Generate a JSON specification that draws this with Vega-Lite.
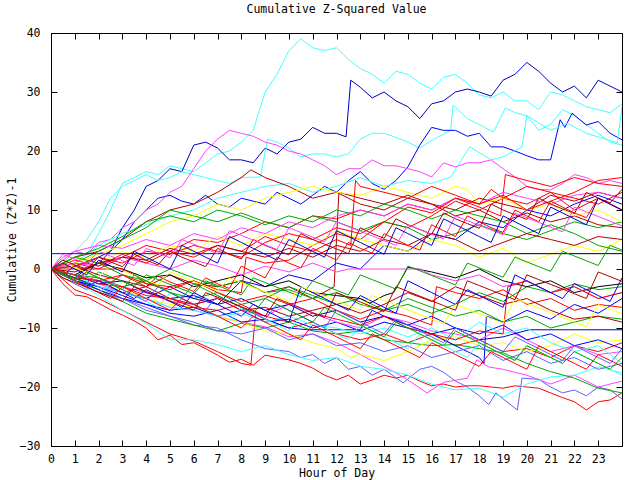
{"$schema":"https://vega.github.io/schema/vega-lite/v6.json","width":571,"height":413,"autosize":{"type":"none"},"padding":{"left":51,"top":33,"right":18,"bottom":34},"background":"#ffffff",
"title":{"text":"Cumulative Z-Squared Value","font":"DejaVu Sans Mono","fontSize":11.5,"fontWeight":"normal","color":"#000","anchor":"middle","offset":12},
"config":{"view":{"stroke":"#000","strokeWidth":1},"axis":{"domainColor":"#000","tickColor":"#000","labelColor":"#000","titleColor":"#000","labelFont":"DejaVu Sans Mono","titleFont":"DejaVu Sans Mono","labelFontSize":11.5,"titleFontSize":11.5,"titleFontWeight":"normal","grid":false,"tickSize":-6}},
"data":{"values":[
{"s":"C1","h":0,"v":0},{"s":"C1","h":0.5,"v":1.5},{"s":"C1","h":1,"v":3},{"s":"C1","h":1.5,"v":2.5},{"s":"C1","h":2,"v":6},{"s":"C1","h":2.5,"v":10},{"s":"C1","h":3,"v":14.5},{"s":"C1","h":3.5,"v":15.5},{"s":"C1","h":4,"v":16.5},{"s":"C1","h":4.5,"v":16},{"s":"C1","h":5,"v":17.5},{"s":"C1","h":5.5,"v":17},{"s":"C1","h":6,"v":16.5},{"s":"C1","h":6.5,"v":18},{"s":"C1","h":7,"v":19.5},{"s":"C1","h":7.5,"v":20},{"s":"C1","h":8,"v":21.5},{"s":"C1","h":8.5,"v":23.5},{"s":"C1","h":9,"v":30},{"s":"C1","h":9.5,"v":33},{"s":"C1","h":10,"v":37},{"s":"C1","h":10.5,"v":39},{"s":"C1","h":11,"v":37.5},{"s":"C1","h":11.5,"v":37},{"s":"C1","h":12,"v":37.5},{"s":"C1","h":12.5,"v":35.5},{"s":"C1","h":13,"v":34},{"s":"C1","h":13.5,"v":33},{"s":"C1","h":14,"v":31.5},{"s":"C1","h":14.5,"v":33.5},{"s":"C1","h":15,"v":33},{"s":"C1","h":15.5,"v":31.5},{"s":"C1","h":16,"v":30.5},{"s":"C1","h":16.5,"v":32.5},{"s":"C1","h":17,"v":33},{"s":"C1","h":17.5,"v":31.5},{"s":"C1","h":18,"v":29.5},{"s":"C1","h":18.5,"v":29},{"s":"C1","h":19,"v":30},{"s":"C1","h":19.5,"v":28.5},{"s":"C1","h":20,"v":28.5},{"s":"C1","h":20.5,"v":27},{"s":"C1","h":21,"v":30},{"s":"C1","h":21.5,"v":29.5},{"s":"C1","h":22,"v":28.5},{"s":"C1","h":22.5,"v":27.5},{"s":"C1","h":23,"v":27},{"s":"C1","h":23.5,"v":26.5},{"s":"C1","h":24,"v":28},
{"s":"B1","h":0,"v":0},{"s":"B1","h":0.5,"v":-1},{"s":"B1","h":1,"v":0.5},{"s":"B1","h":1.5,"v":1},{"s":"B1","h":2,"v":2},{"s":"B1","h":2.5,"v":3},{"s":"B1","h":3,"v":7},{"s":"B1","h":3.5,"v":10},{"s":"B1","h":4,"v":14},{"s":"B1","h":4.5,"v":15},{"s":"B1","h":5,"v":17},{"s":"B1","h":5.5,"v":16.5},{"s":"B1","h":6,"v":21},{"s":"B1","h":6.5,"v":21.5},{"s":"B1","h":7,"v":20.5},{"s":"B1","h":7.5,"v":18.5},{"s":"B1","h":8,"v":18.5},{"s":"B1","h":8.5,"v":18},{"s":"B1","h":9,"v":20.5},{"s":"B1","h":9.5,"v":19.5},{"s":"B1","h":10,"v":21.5},{"s":"B1","h":10.5,"v":22},{"s":"B1","h":11,"v":24},{"s":"B1","h":11.5,"v":23},{"s":"B1","h":12,"v":23},{"s":"B1","h":12.4,"v":22.4},{"s":"B1","h":12.6,"v":32},{"s":"B1","h":13,"v":30.8},{"s":"B1","h":13.5,"v":29},{"s":"B1","h":14,"v":30},{"s":"B1","h":14.5,"v":28.5},{"s":"B1","h":15,"v":27.5},{"s":"B1","h":15.5,"v":25.5},{"s":"B1","h":16,"v":28},{"s":"B1","h":16.5,"v":28.5},{"s":"B1","h":17,"v":30},{"s":"B1","h":17.5,"v":30.5},{"s":"B1","h":18,"v":30},{"s":"B1","h":18.5,"v":29.3},{"s":"B1","h":19,"v":32},{"s":"B1","h":19.5,"v":33},{"s":"B1","h":20,"v":35},{"s":"B1","h":20.5,"v":33.5},{"s":"B1","h":21,"v":31.5},{"s":"B1","h":21.5,"v":30},{"s":"B1","h":22,"v":31},{"s":"B1","h":22.5,"v":29},{"s":"B1","h":23,"v":32},{"s":"B1","h":23.5,"v":31},{"s":"B1","h":24,"v":30},
{"s":"C2","h":0,"v":0},{"s":"C2","h":0.5,"v":1},{"s":"C2","h":1,"v":3},{"s":"C2","h":1.5,"v":5},{"s":"C2","h":2,"v":8},{"s":"C2","h":2.5,"v":12},{"s":"C2","h":3,"v":14},{"s":"C2","h":3.5,"v":15},{"s":"C2","h":4,"v":16},{"s":"C2","h":4.5,"v":15},{"s":"C2","h":5,"v":15.5},{"s":"C2","h":5.5,"v":16.5},{"s":"C2","h":6,"v":16},{"s":"C2","h":6.5,"v":15.5},{"s":"C2","h":7,"v":15},{"s":"C2","h":7.5,"v":14.5},{"s":"C2","h":8,"v":15.5},{"s":"C2","h":8.8,"v":15.6},{"s":"C2","h":9.1,"v":22},{"s":"C2","h":9.5,"v":21.5},{"s":"C2","h":10,"v":20.5},{"s":"C2","h":10.5,"v":19},{"s":"C2","h":11,"v":19.5},{"s":"C2","h":11.5,"v":19.5},{"s":"C2","h":12,"v":19},{"s":"C2","h":12.5,"v":19.5},{"s":"C2","h":13,"v":22},{"s":"C2","h":13.5,"v":23},{"s":"C2","h":14,"v":23},{"s":"C2","h":14.5,"v":22.3},{"s":"C2","h":15,"v":21.5},{"s":"C2","h":15.5,"v":20.5},{"s":"C2","h":16,"v":21.8},{"s":"C2","h":16.8,"v":23.5},{"s":"C2","h":16.9,"v":27.8},{"s":"C2","h":17.5,"v":25.5},{"s":"C2","h":18,"v":24.5},{"s":"C2","h":18.6,"v":23.2},{"s":"C2","h":19.1,"v":27.3},{"s":"C2","h":19.5,"v":26.5},{"s":"C2","h":20,"v":26},{"s":"C2","h":20.5,"v":23.5},{"s":"C2","h":21,"v":24.5},{"s":"C2","h":21.5,"v":27},{"s":"C2","h":22,"v":26},{"s":"C2","h":22.5,"v":24.5},{"s":"C2","h":23,"v":23},{"s":"C2","h":23.5,"v":21.5},{"s":"C2","h":24,"v":21},
{"s":"B2","h":0,"v":0},{"s":"B2","h":0.5,"v":-1},{"s":"B2","h":1,"v":-1.5},{"s":"B2","h":1.5,"v":0},{"s":"B2","h":2,"v":1},{"s":"B2","h":2.5,"v":3},{"s":"B2","h":3,"v":5},{"s":"B2","h":3.5,"v":8},{"s":"B2","h":4,"v":10},{"s":"B2","h":4.5,"v":12},{"s":"B2","h":5,"v":12.5},{"s":"B2","h":5.5,"v":11.5},{"s":"B2","h":6,"v":11},{"s":"B2","h":6.5,"v":12.5},{"s":"B2","h":7,"v":11},{"s":"B2","h":7.5,"v":10.5},{"s":"B2","h":8,"v":12},{"s":"B2","h":8.5,"v":11.5},{"s":"B2","h":9,"v":11},{"s":"B2","h":9.5,"v":13},{"s":"B2","h":10,"v":12},{"s":"B2","h":10.5,"v":11},{"s":"B2","h":11,"v":12.5},{"s":"B2","h":11.5,"v":14},{"s":"B2","h":12,"v":13},{"s":"B2","h":12.5,"v":15},{"s":"B2","h":13,"v":16.5},{"s":"B2","h":13.5,"v":14.5},{"s":"B2","h":14,"v":13.5},{"s":"B2","h":14.5,"v":15},{"s":"B2","h":15,"v":17.3},{"s":"B2","h":15.5,"v":21},{"s":"B2","h":16,"v":24},{"s":"B2","h":16.5,"v":23.5},{"s":"B2","h":17,"v":23.5},{"s":"B2","h":17.5,"v":22.5},{"s":"B2","h":18,"v":23},{"s":"B2","h":18.5,"v":20.7},{"s":"B2","h":19,"v":20.7},{"s":"B2","h":19.5,"v":20},{"s":"B2","h":20,"v":19.2},{"s":"B2","h":20.5,"v":18.5},{"s":"B2","h":21,"v":18.5},{"s":"B2","h":21.4,"v":25.3},{"s":"B2","h":21.6,"v":24},{"s":"B2","h":21.9,"v":26.4},{"s":"B2","h":22.5,"v":24.4},{"s":"B2","h":23,"v":25},{"s":"B2","h":23.5,"v":23},{"s":"B2","h":24,"v":21.9},
{"s":"M1","h":0,"v":0},{"s":"M1","h":0.5,"v":2},{"s":"M1","h":1,"v":3},{"s":"M1","h":1.5,"v":2.5},{"s":"M1","h":2,"v":4.5},{"s":"M1","h":2.5,"v":5},{"s":"M1","h":3,"v":7},{"s":"M1","h":3.5,"v":8},{"s":"M1","h":4,"v":10},{"s":"M1","h":4.5,"v":11},{"s":"M1","h":5,"v":13},{"s":"M1","h":5.5,"v":14},{"s":"M1","h":6,"v":17},{"s":"M1","h":6.5,"v":20},{"s":"M1","h":7,"v":22},{"s":"M1","h":7.5,"v":23.5},{"s":"M1","h":8,"v":23},{"s":"M1","h":8.5,"v":22.5},{"s":"M1","h":9,"v":21.5},{"s":"M1","h":9.5,"v":21},{"s":"M1","h":10,"v":20},{"s":"M1","h":10.5,"v":19.5},{"s":"M1","h":11,"v":18.5},{"s":"M1","h":11.5,"v":17.5},{"s":"M1","h":12,"v":16},{"s":"M1","h":12.5,"v":17},{"s":"M1","h":13,"v":17},{"s":"M1","h":13.5,"v":18.5},{"s":"M1","h":14,"v":17.5},{"s":"M1","h":14.5,"v":17.5},{"s":"M1","h":15,"v":17},{"s":"M1","h":15.5,"v":16.5},{"s":"M1","h":16,"v":15.6},{"s":"M1","h":16.5,"v":18},{"s":"M1","h":17,"v":17.3},{"s":"M1","h":17.5,"v":18},{"s":"M1","h":18,"v":18},{"s":"M1","h":18.5,"v":18.5},{"s":"M1","h":19,"v":17},{"s":"M1","h":19.5,"v":15.6},{"s":"M1","h":20,"v":14},{"s":"M1","h":20.5,"v":13.5},{"s":"M1","h":21,"v":13.4},{"s":"M1","h":21.5,"v":14.5},{"s":"M1","h":22,"v":16},{"s":"M1","h":22.5,"v":15.5},{"s":"M1","h":23,"v":14.5},{"s":"M1","h":23.5,"v":15},{"s":"M1","h":24,"v":14.5},
{"s":"C3","h":0,"v":0},{"s":"C3","h":1,"v":1},{"s":"C3","h":2,"v":4},{"s":"C3","h":3,"v":6},{"s":"C3","h":4,"v":7.5},{"s":"C3","h":5,"v":9},{"s":"C3","h":6,"v":10},{"s":"C3","h":7,"v":12},{"s":"C3","h":8,"v":13},{"s":"C3","h":9,"v":14},{"s":"C3","h":10,"v":14.5},{"s":"C3","h":11,"v":13},{"s":"C3","h":12,"v":14},{"s":"C3","h":13,"v":15.5},{"s":"C3","h":14,"v":14},{"s":"C3","h":15,"v":15},{"s":"C3","h":16,"v":14.5},{"s":"C3","h":16.8,"v":15.6},{"s":"C3","h":17.6,"v":20.7},{"s":"C3","h":18.5,"v":18.5},{"s":"C3","h":19,"v":19},{"s":"C3","h":19.8,"v":20.7},{"s":"C3","h":20,"v":26},{"s":"C3","h":21,"v":23.5},{"s":"C3","h":21.7,"v":24.7},{"s":"C3","h":22.5,"v":23},{"s":"C3","h":23.8,"v":21.4},{"s":"C3","h":24,"v":27.5},
{"s":"R1","h":0,"v":0},{"s":"R1","h":0.5,"v":-2.5},{"s":"R1","h":1,"v":-4.4},{"s":"R1","h":1.5,"v":-4.7},{"s":"R1","h":2,"v":-5.8},{"s":"R1","h":2.5,"v":-6.9},{"s":"R1","h":3,"v":-7.8},{"s":"R1","h":3.5,"v":-8.8},{"s":"R1","h":4,"v":-10},{"s":"R1","h":4.5,"v":-12},{"s":"R1","h":5,"v":-11.2},{"s":"R1","h":5.5,"v":-12.8},{"s":"R1","h":6,"v":-12.5},{"s":"R1","h":6.5,"v":-13.5},{"s":"R1","h":7,"v":-14.6},{"s":"R1","h":7.5,"v":-15.8},{"s":"R1","h":8,"v":-15.3},{"s":"R1","h":8.5,"v":-16.3},{"s":"R1","h":9,"v":-14.6},{"s":"R1","h":9.5,"v":-15},{"s":"R1","h":10,"v":-15.4},{"s":"R1","h":10.5,"v":-16},{"s":"R1","h":11,"v":-16.8},{"s":"R1","h":11.5,"v":-18},{"s":"R1","h":12,"v":-18.8},{"s":"R1","h":12.5,"v":-18},{"s":"R1","h":13,"v":-19.5},{"s":"R1","h":13.5,"v":-18.8},{"s":"R1","h":14,"v":-18},{"s":"R1","h":14.5,"v":-18.5},{"s":"R1","h":15,"v":-18},{"s":"R1","h":15.5,"v":-19},{"s":"R1","h":16,"v":-19.8},{"s":"R1","h":16.5,"v":-19.5},{"s":"R1","h":17,"v":-20},{"s":"R1","h":17.5,"v":-19.8},{"s":"R1","h":18,"v":-19.8},{"s":"R1","h":18.5,"v":-20},{"s":"R1","h":19,"v":-20.2},{"s":"R1","h":19.5,"v":-19.8},{"s":"R1","h":20,"v":-20},{"s":"R1","h":20.5,"v":-20.2},{"s":"R1","h":21,"v":-21},{"s":"R1","h":21.5,"v":-21.8},{"s":"R1","h":22,"v":-22.5},{"s":"R1","h":22.5,"v":-23.9},{"s":"R1","h":23,"v":-22.5},{"s":"R1","h":23.5,"v":-22.2},{"s":"R1","h":24,"v":-21},
{"s":"R2","h":0,"v":0},{"s":"R2","h":1,"v":-3.5},{"s":"R2","h":2,"v":-5},{"s":"R2","h":3,"v":-7},{"s":"R2","h":4,"v":-9},{"s":"R2","h":5,"v":-11},{"s":"R2","h":6,"v":-12.2},{"s":"R2","h":7,"v":-14},{"s":"R2","h":8,"v":-16},{"s":"R2","h":8.4,"v":-16.3},{"s":"R2","h":8.6,"v":-7.5},{"s":"R2","h":9,"v":-8.5},{"s":"R2","h":10,"v":-10},{"s":"R2","h":11,"v":-9},{"s":"R2","h":12,"v":-11},{"s":"R2","h":13,"v":-12},{"s":"R2","h":14,"v":-11},{"s":"R2","h":15,"v":-12.5},{"s":"R2","h":16,"v":-11},{"s":"R2","h":17,"v":-13},{"s":"R2","h":18,"v":-12},{"s":"R2","h":19,"v":-14},{"s":"R2","h":20,"v":-13.5},{"s":"R2","h":21,"v":-15},{"s":"R2","h":22,"v":-13},{"s":"R2","h":23,"v":-14},{"s":"R2","h":24,"v":-12.5},
{"s":"P1","h":0,"v":0},{"s":"P1","h":1,"v":-2},{"s":"P1","h":2,"v":-3},{"s":"P1","h":3,"v":-5},{"s":"P1","h":4,"v":-6.5},{"s":"P1","h":5,"v":-8},{"s":"P1","h":6,"v":-9.5},{"s":"P1","h":7,"v":-10},{"s":"P1","h":8,"v":-12},{"s":"P1","h":9,"v":-13.5},{"s":"P1","h":10,"v":-14},{"s":"P1","h":10.5,"v":-15},{"s":"P1","h":11,"v":-14.5},{"s":"P1","h":11.5,"v":-16},{"s":"P1","h":12,"v":-15},{"s":"P1","h":12.5,"v":-17},{"s":"P1","h":13,"v":-16.5},{"s":"P1","h":13.5,"v":-18},{"s":"P1","h":14,"v":-17},{"s":"P1","h":14.8,"v":-19.3},{"s":"P1","h":15.5,"v":-17},{"s":"P1","h":16,"v":-16.5},{"s":"P1","h":16.5,"v":-17.5},{"s":"P1","h":17,"v":-19},{"s":"P1","h":17.5,"v":-20},{"s":"P1","h":18,"v":-21.5},{"s":"P1","h":18.4,"v":-23},{"s":"P1","h":18.7,"v":-21},{"s":"P1","h":19,"v":-22},{"s":"P1","h":19.6,"v":-23.9},{"s":"P1","h":19.8,"v":-18.5},{"s":"P1","h":20.5,"v":-18.7},{"s":"P1","h":21,"v":-20},{"s":"P1","h":21.5,"v":-21},{"s":"P1","h":22,"v":-20.5},{"s":"P1","h":22.5,"v":-21.5},{"s":"P1","h":23,"v":-20},{"s":"P1","h":23.5,"v":-20.5},{"s":"P1","h":24,"v":-22},
{"s":"M2","h":0,"v":0},{"s":"M2","h":1,"v":-1},{"s":"M2","h":2,"v":-2.5},{"s":"M2","h":3,"v":-4},{"s":"M2","h":4,"v":-5},{"s":"M2","h":5,"v":-6.5},{"s":"M2","h":6,"v":-7},{"s":"M2","h":7,"v":-8},{"s":"M2","h":8,"v":-9},{"s":"M2","h":9,"v":-9.8},{"s":"M2","h":10,"v":-11.5},{"s":"M2","h":11,"v":-11},{"s":"M2","h":12,"v":-12.5},{"s":"M2","h":13,"v":-14.5},{"s":"M2","h":14,"v":-16.6},{"s":"M2","h":14.5,"v":-17.6},{"s":"M2","h":15,"v":-18.8},{"s":"M2","h":15.8,"v":-21},{"s":"M2","h":16.5,"v":-19.2},{"s":"M2","h":17.5,"v":-18.5},{"s":"M2","h":17.9,"v":-15.4},{"s":"M2","h":18.4,"v":-16.6},{"s":"M2","h":19,"v":-17},{"s":"M2","h":20,"v":-18},{"s":"M2","h":21,"v":-19.5},{"s":"M2","h":22,"v":-18},{"s":"M2","h":23,"v":-20},{"s":"M2","h":24,"v":-19},
{"s":"C4","h":0,"v":0},{"s":"C4","h":1,"v":-2},{"s":"C4","h":2,"v":-4.5},{"s":"C4","h":3,"v":-7},{"s":"C4","h":4,"v":-9.2},{"s":"C4","h":5,"v":-12},{"s":"C4","h":6,"v":-12},{"s":"C4","h":7,"v":-12.8},{"s":"C4","h":8,"v":-14},{"s":"C4","h":9,"v":-13},{"s":"C4","h":10,"v":-14.5},{"s":"C4","h":11,"v":-15.5},{"s":"C4","h":12,"v":-15},{"s":"C4","h":13,"v":-16.5},{"s":"C4","h":14,"v":-17},{"s":"C4","h":15,"v":-18},{"s":"C4","h":16,"v":-19.5},{"s":"C4","h":17,"v":-20.5},{"s":"C4","h":18,"v":-20.2},{"s":"C4","h":19,"v":-21.7},{"s":"C4","h":20,"v":-19.5},{"s":"C4","h":21,"v":-18.3},{"s":"C4","h":22,"v":-18},{"s":"C4","h":23,"v":-16.6},{"s":"C4","h":24,"v":-17.6},
{"s":"G1","h":0,"v":0},{"s":"G1","h":1,"v":-1.5},{"s":"G1","h":2,"v":-3.5},{"s":"G1","h":3,"v":-5.5},{"s":"G1","h":4,"v":-7.5},{"s":"G1","h":5,"v":-8.5},{"s":"G1","h":6,"v":-9.5},{"s":"G1","h":7,"v":-10.5},{"s":"G1","h":8,"v":-9.2},{"s":"G1","h":9,"v":-10},{"s":"G1","h":10,"v":-9},{"s":"G1","h":11,"v":-10.5},{"s":"G1","h":12,"v":-11},{"s":"G1","h":13,"v":-10.5},{"s":"G1","h":14,"v":-12},{"s":"G1","h":15,"v":-12.5},{"s":"G1","h":16,"v":-13},{"s":"G1","h":17,"v":-12.8},{"s":"G1","h":18,"v":-13.5},{"s":"G1","h":19,"v":-14.2},{"s":"G1","h":20,"v":-16},{"s":"G1","h":21,"v":-17.4},{"s":"G1","h":22,"v":-18.5},{"s":"G1","h":23,"v":-20.2},{"s":"G1","h":24,"v":-21},
{"s":"Y1","h":0,"v":0},{"s":"Y1","h":1,"v":-1},{"s":"Y1","h":2,"v":-2},{"s":"Y1","h":3,"v":-3.5},{"s":"Y1","h":4,"v":-5},{"s":"Y1","h":5,"v":-6},{"s":"Y1","h":6,"v":-6.5},{"s":"Y1","h":7,"v":-8},{"s":"Y1","h":8,"v":-9},{"s":"Y1","h":9,"v":-10.5},{"s":"Y1","h":10,"v":-11},{"s":"Y1","h":11,"v":-12.5},{"s":"Y1","h":12,"v":-13.5},{"s":"Y1","h":12.6,"v":-15},{"s":"Y1","h":13,"v":-14.5},{"s":"Y1","h":14,"v":-15.5},{"s":"Y1","h":15,"v":-14},{"s":"Y1","h":16,"v":-12},{"s":"Y1","h":17,"v":-11.5},{"s":"Y1","h":18,"v":-13},{"s":"Y1","h":19,"v":-12.5},{"s":"Y1","h":20,"v":-14},{"s":"Y1","h":21,"v":-13},{"s":"Y1","h":22,"v":-11},{"s":"Y1","h":23,"v":-12.5},{"s":"Y1","h":24,"v":-12},
{"s":"R3","h":0,"v":0},{"s":"R3","h":1,"v":1},{"s":"R3","h":2,"v":0},{"s":"R3","h":3,"v":2},{"s":"R3","h":4,"v":4},{"s":"R3","h":5,"v":3},{"s":"R3","h":6,"v":5},{"s":"R3","h":7,"v":4.5},{"s":"R3","h":8,"v":6},{"s":"R3","h":9,"v":8},{"s":"R3","h":10,"v":7},{"s":"R3","h":11,"v":9},{"s":"R3","h":12,"v":8.5},{"s":"R3","h":13,"v":10},{"s":"R3","h":14,"v":9},{"s":"R3","h":15,"v":11},{"s":"R3","h":16,"v":10},{"s":"R3","h":17,"v":12},{"s":"R3","h":18,"v":10.5},{"s":"R3","h":18.9,"v":9},{"s":"R3","h":19.1,"v":16},{"s":"R3","h":20,"v":15},{"s":"R3","h":21,"v":14},{"s":"R3","h":22,"v":15.5},{"s":"R3","h":23,"v":14.5},{"s":"R3","h":24,"v":14},
{"s":"R4","h":0,"v":0},{"s":"R4","h":1,"v":-1},{"s":"R4","h":2,"v":-2},{"s":"R4","h":3,"v":-1},{"s":"R4","h":4,"v":-2.5},{"s":"R4","h":5,"v":-3},{"s":"R4","h":6,"v":-2},{"s":"R4","h":7,"v":-3.5},{"s":"R4","h":8,"v":-4},{"s":"R4","h":8.2,"v":2},{"s":"R4","h":9,"v":1},{"s":"R4","h":10,"v":1.5},{"s":"R4","h":11,"v":4},{"s":"R4","h":12,"v":6},{"s":"R4","h":13,"v":5},{"s":"R4","h":14,"v":8},{"s":"R4","h":15,"v":7},{"s":"R4","h":16,"v":9},{"s":"R4","h":17,"v":11.5},{"s":"R4","h":18,"v":10},{"s":"R4","h":19,"v":12},{"s":"R4","h":20,"v":11},{"s":"R4","h":21,"v":13},{"s":"R4","h":22,"v":12},{"s":"R4","h":23,"v":11},{"s":"R4","h":24,"v":13},
{"s":"D1","h":0,"v":0},{"s":"D1","h":1,"v":0.5},{"s":"D1","h":2,"v":-1},{"s":"D1","h":3,"v":-2},{"s":"D1","h":4,"v":-3},{"s":"D1","h":5,"v":-1},{"s":"D1","h":6,"v":-2.5},{"s":"D1","h":7,"v":-3},{"s":"D1","h":8,"v":-2},{"s":"D1","h":9,"v":-4},{"s":"D1","h":10,"v":-3},{"s":"D1","h":11,"v":-5},{"s":"D1","h":11.9,"v":-3},{"s":"D1","h":12.1,"v":13},{"s":"D1","h":13,"v":12},{"s":"D1","h":14,"v":11},{"s":"D1","h":15,"v":12.5},{"s":"D1","h":16,"v":11},{"s":"D1","h":17,"v":10},{"s":"D1","h":18,"v":12},{"s":"D1","h":19,"v":11},{"s":"D1","h":20,"v":10},{"s":"D1","h":21,"v":12.5},{"s":"D1","h":22,"v":11.5},{"s":"D1","h":23,"v":13},{"s":"D1","h":24,"v":12},
{"s":"D2","h":0,"v":0},{"s":"D2","h":1,"v":2},{"s":"D2","h":2,"v":3},{"s":"D2","h":3,"v":5},{"s":"D2","h":4,"v":8},{"s":"D2","h":5,"v":10},{"s":"D2","h":6,"v":11},{"s":"D2","h":7,"v":13},{"s":"D2","h":8,"v":15.5},{"s":"D2","h":8.4,"v":16.8},{"s":"D2","h":9,"v":15.5},{"s":"D2","h":10,"v":14},{"s":"D2","h":11,"v":12},{"s":"D2","h":12,"v":13},{"s":"D2","h":13,"v":11},{"s":"D2","h":14,"v":10},{"s":"D2","h":15,"v":12},{"s":"D2","h":16,"v":11},{"s":"D2","h":17,"v":9},{"s":"D2","h":18,"v":10},{"s":"D2","h":19,"v":8},{"s":"D2","h":20,"v":9.5},{"s":"D2","h":21,"v":8},{"s":"D2","h":22,"v":9},{"s":"D2","h":23,"v":7.5},{"s":"D2","h":24,"v":7},
{"s":"G2","h":0,"v":0},{"s":"G2","h":1,"v":1},{"s":"G2","h":2,"v":3},{"s":"G2","h":3,"v":5},{"s":"G2","h":4,"v":7},{"s":"G2","h":5,"v":10},{"s":"G2","h":6,"v":9},{"s":"G2","h":7,"v":8},{"s":"G2","h":8,"v":9.5},{"s":"G2","h":9,"v":8},{"s":"G2","h":10,"v":7},{"s":"G2","h":11,"v":9},{"s":"G2","h":12,"v":8},{"s":"G2","h":13,"v":6.5},{"s":"G2","h":14,"v":8},{"s":"G2","h":15,"v":7},{"s":"G2","h":16,"v":5},{"s":"G2","h":17,"v":6},{"s":"G2","h":18,"v":7.5},{"s":"G2","h":19,"v":6},{"s":"G2","h":20,"v":5},{"s":"G2","h":21,"v":6.5},{"s":"G2","h":22,"v":8},{"s":"G2","h":23,"v":7},{"s":"G2","h":24,"v":8},
{"s":"G3","h":0,"v":0},{"s":"G3","h":1,"v":-1},{"s":"G3","h":2,"v":-1.5},{"s":"G3","h":3,"v":-3},{"s":"G3","h":4,"v":-2},{"s":"G3","h":5,"v":-4},{"s":"G3","h":6,"v":-5},{"s":"G3","h":7,"v":-4},{"s":"G3","h":8,"v":-6},{"s":"G3","h":9,"v":-5},{"s":"G3","h":10,"v":-3},{"s":"G3","h":11,"v":-4.5},{"s":"G3","h":12,"v":-6},{"s":"G3","h":13,"v":-5},{"s":"G3","h":14,"v":-7},{"s":"G3","h":15,"v":-6},{"s":"G3","h":16,"v":-7.5},{"s":"G3","h":17,"v":-6},{"s":"G3","h":18,"v":-4},{"s":"G3","h":19,"v":-5.5},{"s":"G3","h":20,"v":-3},{"s":"G3","h":21,"v":-4},{"s":"G3","h":22,"v":-2.5},{"s":"G3","h":23,"v":-3.5},{"s":"G3","h":24,"v":-3},
{"s":"B3","h":0,"v":0},{"s":"B3","h":1,"v":-2},{"s":"B3","h":2,"v":-3},{"s":"B3","h":3,"v":-4},{"s":"B3","h":4,"v":-5},{"s":"B3","h":5,"v":-3},{"s":"B3","h":6,"v":-5},{"s":"B3","h":7,"v":-6},{"s":"B3","h":8,"v":-2},{"s":"B3","h":9,"v":-3},{"s":"B3","h":10,"v":-1},{"s":"B3","h":11,"v":-2},{"s":"B3","h":12,"v":1},{"s":"B3","h":13,"v":0},{"s":"B3","h":14,"v":4},{"s":"B3","h":15,"v":3},{"s":"B3","h":16,"v":6},{"s":"B3","h":17,"v":5},{"s":"B3","h":18,"v":8},{"s":"B3","h":19,"v":7},{"s":"B3","h":20,"v":10},{"s":"B3","h":21,"v":9},{"s":"B3","h":22,"v":11},{"s":"B3","h":23,"v":12.5},{"s":"B3","h":24,"v":11},
{"s":"B4","h":0,"v":0},{"s":"B4","h":1,"v":-1.5},{"s":"B4","h":2,"v":-3},{"s":"B4","h":3,"v":-4.5},{"s":"B4","h":4,"v":-6},{"s":"B4","h":5,"v":-7},{"s":"B4","h":6,"v":-6.5},{"s":"B4","h":7,"v":-8},{"s":"B4","h":8,"v":-7},{"s":"B4","h":9,"v":-9},{"s":"B4","h":10,"v":-8.5},{"s":"B4","h":11,"v":-10},{"s":"B4","h":12,"v":-9},{"s":"B4","h":13,"v":-10.5},{"s":"B4","h":14,"v":-9},{"s":"B4","h":15,"v":-10},{"s":"B4","h":16,"v":-11},{"s":"B4","h":17,"v":-13},{"s":"B4","h":18,"v":-15},{"s":"B4","h":18.2,"v":-16},{"s":"B4","h":18.3,"v":-8},{"s":"B4","h":19,"v":-9},{"s":"B4","h":20,"v":-7},{"s":"B4","h":21,"v":-8.5},{"s":"B4","h":22,"v":-6},{"s":"B4","h":23,"v":-7.5},{"s":"B4","h":24,"v":-5},
{"s":"Y2","h":0,"v":0},{"s":"Y2","h":1,"v":2},{"s":"Y2","h":2,"v":1},{"s":"Y2","h":3,"v":3},{"s":"Y2","h":4,"v":2},{"s":"Y2","h":5,"v":4},{"s":"Y2","h":6,"v":3},{"s":"Y2","h":7,"v":5.5},{"s":"Y2","h":8,"v":4},{"s":"Y2","h":9,"v":6},{"s":"Y2","h":10,"v":5},{"s":"Y2","h":11,"v":4},{"s":"Y2","h":12,"v":6.5},{"s":"Y2","h":13,"v":5},{"s":"Y2","h":14,"v":4},{"s":"Y2","h":15,"v":3},{"s":"Y2","h":16,"v":5},{"s":"Y2","h":17,"v":4},{"s":"Y2","h":18,"v":2},{"s":"Y2","h":19,"v":3.5},{"s":"Y2","h":20,"v":1},{"s":"Y2","h":21,"v":2.5},{"s":"Y2","h":22,"v":4},{"s":"Y2","h":23,"v":3},{"s":"Y2","h":24,"v":5},
{"s":"Y3","h":0,"v":0},{"s":"Y3","h":1,"v":1},{"s":"Y3","h":2,"v":2.5},{"s":"Y3","h":3,"v":4},{"s":"Y3","h":4,"v":6},{"s":"Y3","h":5,"v":8},{"s":"Y3","h":6,"v":9},{"s":"Y3","h":7,"v":11},{"s":"Y3","h":8,"v":10},{"s":"Y3","h":9,"v":12},{"s":"Y3","h":10,"v":13},{"s":"Y3","h":11,"v":14},{"s":"Y3","h":12,"v":13},{"s":"Y3","h":13,"v":12.5},{"s":"Y3","h":14,"v":14},{"s":"Y3","h":15,"v":13},{"s":"Y3","h":16,"v":12},{"s":"Y3","h":17,"v":14},{"s":"Y3","h":17.5,"v":13.5},{"s":"Y3","h":18,"v":11},{"s":"Y3","h":19,"v":12},{"s":"Y3","h":20,"v":10},{"s":"Y3","h":21,"v":11},{"s":"Y3","h":22,"v":9},{"s":"Y3","h":23,"v":10},{"s":"Y3","h":24,"v":8},
{"s":"M3","h":0,"v":0},{"s":"M3","h":1,"v":3},{"s":"M3","h":2,"v":4},{"s":"M3","h":3,"v":3.5},{"s":"M3","h":4,"v":5},{"s":"M3","h":5,"v":4},{"s":"M3","h":6,"v":6},{"s":"M3","h":7,"v":5},{"s":"M3","h":8,"v":7},{"s":"M3","h":9,"v":6},{"s":"M3","h":10,"v":8},{"s":"M3","h":11,"v":7},{"s":"M3","h":12,"v":9},{"s":"M3","h":13,"v":10},{"s":"M3","h":14,"v":9},{"s":"M3","h":15,"v":11},{"s":"M3","h":16,"v":10},{"s":"M3","h":17,"v":12},{"s":"M3","h":18,"v":11},{"s":"M3","h":19,"v":13},{"s":"M3","h":20,"v":12},{"s":"M3","h":21,"v":11},{"s":"M3","h":22,"v":12.5},{"s":"M3","h":23,"v":13},{"s":"M3","h":24,"v":12},
{"s":"M4","h":0,"v":0},{"s":"M4","h":1,"v":-1},{"s":"M4","h":2,"v":-2},{"s":"M4","h":3,"v":-3},{"s":"M4","h":4,"v":-4},{"s":"M4","h":5,"v":-5.5},{"s":"M4","h":6,"v":-6},{"s":"M4","h":7,"v":-5},{"s":"M4","h":8,"v":-7},{"s":"M4","h":9,"v":-8},{"s":"M4","h":10,"v":-6},{"s":"M4","h":11,"v":-7.5},{"s":"M4","h":12,"v":-9},{"s":"M4","h":13,"v":-10},{"s":"M4","h":14,"v":-8},{"s":"M4","h":15,"v":-9},{"s":"M4","h":16,"v":-10.5},{"s":"M4","h":17,"v":-11},{"s":"M4","h":18,"v":-12},{"s":"M4","h":19,"v":-10},{"s":"M4","h":20,"v":-12},{"s":"M4","h":21,"v":-14},{"s":"M4","h":22,"v":-13},{"s":"M4","h":23,"v":-14.5},{"s":"M4","h":24,"v":-14},
{"s":"K1","h":0,"v":0},{"s":"K1","h":1,"v":-1},{"s":"K1","h":2,"v":1},{"s":"K1","h":3,"v":0},{"s":"K1","h":4,"v":-1.5},{"s":"K1","h":5,"v":-1},{"s":"K1","h":6,"v":-3},{"s":"K1","h":7,"v":-2},{"s":"K1","h":8,"v":-1},{"s":"K1","h":9,"v":-3},{"s":"K1","h":10,"v":-2},{"s":"K1","h":11,"v":-4},{"s":"K1","h":12,"v":-4.5},{"s":"K1","h":13,"v":-5},{"s":"K1","h":13.4,"v":-5.8},{"s":"K1","h":14,"v":-4.5},{"s":"K1","h":14.4,"v":-4},{"s":"K1","h":15,"v":0.3},{"s":"K1","h":16,"v":-0.5},{"s":"K1","h":17,"v":-1.5},{"s":"K1","h":18,"v":0},{"s":"K1","h":19,"v":-2},{"s":"K1","h":20,"v":-3},{"s":"K1","h":21,"v":-2},{"s":"K1","h":22,"v":-4},{"s":"K1","h":23,"v":-3},{"s":"K1","h":24,"v":-2.5},
{"s":"KF","h":15.5,"v":2.6},{"s":"KF","h":24,"v":2.6},
{"s":"ZB","h":0,"v":2.6},{"s":"ZB","h":15.5,"v":2.6},
{"s":"B5","h":0,"v":0},{"s":"B5","h":1,"v":-2},{"s":"B5","h":2,"v":-3.5},{"s":"B5","h":3,"v":-5},{"s":"B5","h":4,"v":-6},{"s":"B5","h":5,"v":-7.5},{"s":"B5","h":6,"v":-8},{"s":"B5","h":7,"v":-7},{"s":"B5","h":8,"v":-9},{"s":"B5","h":9,"v":-8.5},{"s":"B5","h":10,"v":-10},{"s":"B5","h":10.8,"v":-10.3},{"s":"B5","h":13,"v":-10.3},{"s":"B5","h":13.5,"v":-7},{"s":"B5","h":14,"v":-8},{"s":"B5","h":15,"v":-9.5},{"s":"B5","h":16,"v":-8},{"s":"B5","h":17,"v":-10},{"s":"B5","h":18,"v":-11},{"s":"B5","h":19,"v":-9.5},{"s":"B5","h":20,"v":-12},{"s":"B5","h":21,"v":-11},{"s":"B5","h":22,"v":-13},{"s":"B5","h":23,"v":-12},{"s":"B5","h":24,"v":-13.5},
{"s":"B6","h":0,"v":0},{"s":"B6","h":1,"v":-1},{"s":"B6","h":2,"v":-2.5},{"s":"B6","h":3,"v":-2},{"s":"B6","h":4,"v":-4},{"s":"B6","h":5,"v":-5},{"s":"B6","h":6,"v":-4.5},{"s":"B6","h":7,"v":-6},{"s":"B6","h":8,"v":-5},{"s":"B6","h":9,"v":-7},{"s":"B6","h":10,"v":-6},{"s":"B6","h":11,"v":-8},{"s":"B6","h":12,"v":-7},{"s":"B6","h":13,"v":-9},{"s":"B6","h":14,"v":-8},{"s":"B6","h":15,"v":-9.5},{"s":"B6","h":16,"v":-11},{"s":"B6","h":17,"v":-10},{"s":"B6","h":18,"v":-12},{"s":"B6","h":19,"v":-11.5},{"s":"B6","h":20.1,"v":-10.3},{"s":"B6","h":24,"v":-10.3},
{"s":"M5","h":0,"v":0},{"s":"M5","h":1,"v":1},{"s":"M5","h":2,"v":0.5},{"s":"M5","h":3,"v":2},{"s":"M5","h":4,"v":1},{"s":"M5","h":5,"v":0},{"s":"M5","h":6,"v":1.5},{"s":"M5","h":7,"v":0.5},{"s":"M5","h":8,"v":-1},{"s":"M5","h":9,"v":0.5},{"s":"M5","h":10,"v":-0.5},{"s":"M5","h":11,"v":1},{"s":"M5","h":12,"v":-0.5},{"s":"M5","h":12.5,"v":0},{"s":"M5","h":15.5,"v":0},{"s":"M5","h":16,"v":-1},{"s":"M5","h":17,"v":-2},{"s":"M5","h":18,"v":-1},{"s":"M5","h":19,"v":-3},{"s":"M5","h":20,"v":-2},{"s":"M5","h":21,"v":-4},{"s":"M5","h":22,"v":-3},{"s":"M5","h":23,"v":-5},{"s":"M5","h":24,"v":-4},
{"s":"R5","h":0,"v":0},{"s":"R5","h":3,"v":0},{"s":"R5","h":3.5,"v":-1},{"s":"R5","h":4,"v":-2.5},{"s":"R5","h":5,"v":-3.5},{"s":"R5","h":6,"v":-2},{"s":"R5","h":7,"v":-4},{"s":"R5","h":8,"v":-5.5},{"s":"R5","h":9,"v":-4.5},{"s":"R5","h":10,"v":-6},{"s":"R5","h":11,"v":-5},{"s":"R5","h":12,"v":-7},{"s":"R5","h":13,"v":-8.5},{"s":"R5","h":14,"v":-7},{"s":"R5","h":15,"v":-8},{"s":"R5","h":16,"v":-9.5},{"s":"R5","h":16.2,"v":-3},{"s":"R5","h":17,"v":-4},{"s":"R5","h":18,"v":-5},{"s":"R5","h":19,"v":-3.5},{"s":"R5","h":20,"v":-6},{"s":"R5","h":21,"v":-5},{"s":"R5","h":22,"v":-7},{"s":"R5","h":23,"v":-6},{"s":"R5","h":24,"v":-6.5},
{"s":"C5","h":0,"v":0},{"s":"C5","h":1,"v":-1},{"s":"C5","h":2,"v":-3},{"s":"C5","h":3,"v":-4},{"s":"C5","h":4,"v":-5},{"s":"C5","h":5,"v":-6.5},{"s":"C5","h":6,"v":-7},{"s":"C5","h":7,"v":-8},{"s":"C5","h":8,"v":-7.5},{"s":"C5","h":9,"v":-9},{"s":"C5","h":10,"v":-8},{"s":"C5","h":11,"v":-9.5},{"s":"C5","h":12,"v":-10},{"s":"C5","h":13,"v":-11},{"s":"C5","h":14,"v":-10},{"s":"C5","h":15,"v":-11.5},{"s":"C5","h":16,"v":-10},{"s":"C5","h":17,"v":-12},{"s":"C5","h":18,"v":-9},{"s":"C5","h":19,"v":-11},{"s":"C5","h":20,"v":-10},{"s":"C5","h":21,"v":-12.5},{"s":"C5","h":22,"v":-14},{"s":"C5","h":23,"v":-13},{"s":"C5","h":24,"v":-16},
{"s":"G4","h":0,"v":0},{"s":"G4","h":1,"v":2},{"s":"G4","h":2,"v":1},{"s":"G4","h":3,"v":-1},{"s":"G4","h":4,"v":-2},{"s":"G4","h":5,"v":0},{"s":"G4","h":6,"v":-1.5},{"s":"G4","h":7,"v":-3},{"s":"G4","h":8,"v":-2},{"s":"G4","h":9,"v":-4},{"s":"G4","h":10,"v":-3.5},{"s":"G4","h":11,"v":-5},{"s":"G4","h":12,"v":-4},{"s":"G4","h":13,"v":-6},{"s":"G4","h":14,"v":-7},{"s":"G4","h":15,"v":-5},{"s":"G4","h":16,"v":-6.5},{"s":"G4","h":17,"v":-8},{"s":"G4","h":18,"v":-7},{"s":"G4","h":19,"v":-9},{"s":"G4","h":20,"v":-8},{"s":"G4","h":21,"v":-10},{"s":"G4","h":22,"v":-9},{"s":"G4","h":23,"v":-8},{"s":"G4","h":24,"v":-8.5},
{"s":"P2","h":0,"v":0},{"s":"P2","h":1,"v":-2},{"s":"P2","h":2,"v":-4},{"s":"P2","h":3,"v":-5},{"s":"P2","h":4,"v":-7},{"s":"P2","h":5,"v":-8},{"s":"P2","h":6,"v":-9},{"s":"P2","h":7,"v":-10.5},{"s":"P2","h":8,"v":-11},{"s":"P2","h":9,"v":-10},{"s":"P2","h":10,"v":-12},{"s":"P2","h":11,"v":-11},{"s":"P2","h":12,"v":-13},{"s":"P2","h":13,"v":-12.5},{"s":"P2","h":14,"v":-14},{"s":"P2","h":15,"v":-13},{"s":"P2","h":16,"v":-15},{"s":"P2","h":17,"v":-14},{"s":"P2","h":18,"v":-13},{"s":"P2","h":19,"v":-15.5},{"s":"P2","h":20,"v":-14},{"s":"P2","h":21,"v":-16},{"s":"P2","h":22,"v":-15},{"s":"P2","h":23,"v":-17},{"s":"P2","h":24,"v":-16},
{"s":"D3","h":0,"v":0},{"s":"D3","h":1,"v":-1.5},{"s":"D3","h":2,"v":-2},{"s":"D3","h":3,"v":-4},{"s":"D3","h":4,"v":-3},{"s":"D3","h":5,"v":-5},{"s":"D3","h":6,"v":-6},{"s":"D3","h":7,"v":-5},{"s":"D3","h":8,"v":-7},{"s":"D3","h":9,"v":-6.5},{"s":"D3","h":10,"v":-8},{"s":"D3","h":11,"v":-7},{"s":"D3","h":12,"v":-6},{"s":"D3","h":13,"v":-7.5},{"s":"D3","h":14,"v":-6},{"s":"D3","h":15,"v":-4},{"s":"D3","h":16,"v":-5.5},{"s":"D3","h":17,"v":-3},{"s":"D3","h":18,"v":-4.5},{"s":"D3","h":19,"v":-6},{"s":"D3","h":20,"v":-5},{"s":"D3","h":21,"v":-7},{"s":"D3","h":22,"v":-8.5},{"s":"D3","h":23,"v":-8},{"s":"D3","h":24,"v":-9},
{"s":"R6","h":0,"v":0},{"s":"R6","h":1,"v":1.5},{"s":"R6","h":2,"v":0.5},{"s":"R6","h":3,"v":2.5},{"s":"R6","h":4,"v":1},{"s":"R6","h":5,"v":3},{"s":"R6","h":6,"v":2},{"s":"R6","h":7,"v":4},{"s":"R6","h":8,"v":3},{"s":"R6","h":9,"v":5.5},{"s":"R6","h":10,"v":4},{"s":"R6","h":11,"v":3},{"s":"R6","h":12,"v":5},{"s":"R6","h":12.6,"v":4},{"s":"R6","h":12.8,"v":15},{"s":"R6","h":13,"v":14},{"s":"R6","h":14,"v":13},{"s":"R6","h":15,"v":12},{"s":"R6","h":16,"v":14},{"s":"R6","h":17,"v":12.5},{"s":"R6","h":18,"v":11},{"s":"R6","h":18.5,"v":13.5},{"s":"R6","h":19,"v":12},{"s":"R6","h":20,"v":14},{"s":"R6","h":21,"v":13},{"s":"R6","h":22,"v":10},{"s":"R6","h":23,"v":12},{"s":"R6","h":24,"v":10},
{"s":"R7","h":0,"v":0},{"s":"R7","h":1,"v":-1},{"s":"R7","h":2,"v":-2.5},{"s":"R7","h":3,"v":-3},{"s":"R7","h":4,"v":-4.5},{"s":"R7","h":5,"v":-5},{"s":"R7","h":6,"v":-6.5},{"s":"R7","h":7,"v":-7},{"s":"R7","h":8,"v":-6},{"s":"R7","h":9,"v":-8},{"s":"R7","h":10,"v":-9},{"s":"R7","h":11,"v":-7.5},{"s":"R7","h":12,"v":-8.5},{"s":"R7","h":13,"v":-9.5},{"s":"R7","h":14,"v":-8},{"s":"R7","h":15,"v":-10},{"s":"R7","h":16,"v":-11},{"s":"R7","h":17,"v":-12},{"s":"R7","h":18,"v":-10.5},{"s":"R7","h":19,"v":-11},{"s":"R7","h":19.2,"v":-3},{"s":"R7","h":20,"v":-2},{"s":"R7","h":21,"v":-4},{"s":"R7","h":22,"v":-3},{"s":"R7","h":23,"v":-5},{"s":"R7","h":24,"v":-4},
{"s":"R8","h":0,"v":0},{"s":"R8","h":1,"v":0.5},{"s":"R8","h":2,"v":2},{"s":"R8","h":3,"v":1},{"s":"R8","h":4,"v":3},{"s":"R8","h":5,"v":2.5},{"s":"R8","h":6,"v":4},{"s":"R8","h":7,"v":3},{"s":"R8","h":8,"v":2},{"s":"R8","h":9,"v":4.5},{"s":"R8","h":10,"v":6},{"s":"R8","h":11,"v":5},{"s":"R8","h":12,"v":7},{"s":"R8","h":13,"v":6},{"s":"R8","h":14,"v":8},{"s":"R8","h":15,"v":10.5},{"s":"R8","h":16,"v":9.5},{"s":"R8","h":17,"v":12},{"s":"R8","h":18,"v":11},{"s":"R8","h":19,"v":12.5},{"s":"R8","h":20,"v":10},{"s":"R8","h":21,"v":11.5},{"s":"R8","h":22,"v":13},{"s":"R8","h":23,"v":15},{"s":"R8","h":24,"v":15.5},
{"s":"G5","h":0,"v":0},{"s":"G5","h":1,"v":2},{"s":"G5","h":2,"v":3.5},{"s":"G5","h":3,"v":5.5},{"s":"G5","h":4,"v":8},{"s":"G5","h":5,"v":9},{"s":"G5","h":6,"v":8},{"s":"G5","h":7,"v":10},{"s":"G5","h":8,"v":9},{"s":"G5","h":9,"v":7.5},{"s":"G5","h":10,"v":9},{"s":"G5","h":11,"v":8},{"s":"G5","h":12,"v":10},{"s":"G5","h":13,"v":9},{"s":"G5","h":14,"v":11},{"s":"G5","h":15,"v":10},{"s":"G5","h":16,"v":8.5},{"s":"G5","h":17,"v":10},{"s":"G5","h":18,"v":9},{"s":"G5","h":19,"v":8},{"s":"G5","h":20,"v":6},{"s":"G5","h":21,"v":7.5},{"s":"G5","h":22,"v":6},{"s":"G5","h":23,"v":4},{"s":"G5","h":24,"v":3},
{"s":"D4","h":0,"v":0},{"s":"D4","h":1,"v":-0.5},{"s":"D4","h":2,"v":1},{"s":"D4","h":3,"v":2},{"s":"D4","h":4,"v":1.5},{"s":"D4","h":5,"v":3.5},{"s":"D4","h":6,"v":2.5},{"s":"D4","h":7,"v":4},{"s":"D4","h":8,"v":3},{"s":"D4","h":9,"v":2},{"s":"D4","h":10,"v":3.5},{"s":"D4","h":11,"v":2},{"s":"D4","h":12,"v":4},{"s":"D4","h":13,"v":3},{"s":"D4","h":14,"v":5},{"s":"D4","h":15,"v":4},{"s":"D4","h":16,"v":6},{"s":"D4","h":17,"v":5},{"s":"D4","h":18,"v":3},{"s":"D4","h":19,"v":4.5},{"s":"D4","h":20,"v":6},{"s":"D4","h":21,"v":5},{"s":"D4","h":22,"v":4},{"s":"D4","h":23,"v":5.5},{"s":"D4","h":24,"v":5},
{"s":"N1","h":0,"v":0},{"s":"N1","h":0.5,"v":-1},{"s":"N1","h":1,"v":-1.8},{"s":"N1","h":1.5,"v":-0.5},{"s":"N1","h":2,"v":-1.5},{"s":"N1","h":2.5,"v":-2.3},{"s":"N1","h":3,"v":-1},{"s":"N1","h":3.5,"v":-2},{"s":"N1","h":4,"v":-3},{"s":"N1","h":4.5,"v":-1.2},{"s":"N1","h":5,"v":-2.2},{"s":"N1","h":5.5,"v":-3},{"s":"N1","h":6,"v":-3.8},{"s":"N1","h":6.5,"v":-1.5},{"s":"N1","h":7,"v":-2.5},{"s":"N1","h":7.5,"v":-3.3},{"s":"N1","h":8,"v":0.5},{"s":"N1","h":8.5,"v":-0.5},{"s":"N1","h":9,"v":-1.5},{"s":"N1","h":9.5,"v":2},{"s":"N1","h":10,"v":1},{"s":"N1","h":10.5,"v":0.2},{"s":"N1","h":11,"v":3.5},{"s":"N1","h":11.5,"v":2.5},{"s":"N1","h":12,"v":1.5},{"s":"N1","h":12.5,"v":4.5},{"s":"N1","h":13,"v":3.5},{"s":"N1","h":13.5,"v":2.7},{"s":"N1","h":14,"v":6},{"s":"N1","h":14.5,"v":5},{"s":"N1","h":15,"v":4},{"s":"N1","h":15.5,"v":3.2},{"s":"N1","h":16,"v":7.5},{"s":"N1","h":16.5,"v":6.5},{"s":"N1","h":17,"v":5.5},{"s":"N1","h":17.5,"v":9},{"s":"N1","h":18,"v":8},{"s":"N1","h":18.5,"v":7},{"s":"N1","h":19,"v":6.2},{"s":"N1","h":19.5,"v":10},{"s":"N1","h":20,"v":9},{"s":"N1","h":20.5,"v":8},{"s":"N1","h":21,"v":11.5},{"s":"N1","h":21.5,"v":10.5},{"s":"N1","h":22,"v":9.5},{"s":"N1","h":22.5,"v":8.7},{"s":"N1","h":23,"v":12},{"s":"N1","h":23.5,"v":11},{"s":"N1","h":24,"v":10},
{"s":"N2","h":0,"v":0},{"s":"N2","h":0.5,"v":1.5},{"s":"N2","h":1,"v":0.7},{"s":"N2","h":1.5,"v":0},{"s":"N2","h":2,"v":2},{"s":"N2","h":2.5,"v":1.2},{"s":"N2","h":3,"v":0.4},{"s":"N2","h":3.5,"v":2.5},{"s":"N2","h":4,"v":1.5},{"s":"N2","h":4.5,"v":0.7},{"s":"N2","h":5,"v":3},{"s":"N2","h":5.5,"v":2},{"s":"N2","h":6,"v":1.2},{"s":"N2","h":6.5,"v":0.4},{"s":"N2","h":7,"v":3.5},{"s":"N2","h":7.5,"v":2.5},{"s":"N2","h":8,"v":1.7},{"s":"N2","h":8.5,"v":5},{"s":"N2","h":9,"v":4},{"s":"N2","h":9.5,"v":3.2},{"s":"N2","h":10,"v":2.4},{"s":"N2","h":10.5,"v":6},{"s":"N2","h":11,"v":5},{"s":"N2","h":11.5,"v":4.2},{"s":"N2","h":12,"v":3.4},{"s":"N2","h":12.5,"v":2.6},{"s":"N2","h":13,"v":7},{"s":"N2","h":13.5,"v":6},{"s":"N2","h":14,"v":5.2},{"s":"N2","h":14.5,"v":8.5},{"s":"N2","h":15,"v":7.5},{"s":"N2","h":15.5,"v":6.7},{"s":"N2","h":16,"v":5.9},{"s":"N2","h":16.5,"v":9.5},{"s":"N2","h":17,"v":8.5},{"s":"N2","h":17.5,"v":7.7},{"s":"N2","h":18,"v":6.9},{"s":"N2","h":18.5,"v":11},{"s":"N2","h":19,"v":10},{"s":"N2","h":19.5,"v":9.2},{"s":"N2","h":20,"v":8.4},{"s":"N2","h":20.5,"v":12},{"s":"N2","h":21,"v":11},{"s":"N2","h":21.5,"v":10.2},{"s":"N2","h":22,"v":9.4},{"s":"N2","h":22.5,"v":13},{"s":"N2","h":23,"v":12},{"s":"N2","h":23.5,"v":11.2},{"s":"N2","h":24,"v":13.5},
{"s":"N3","h":0,"v":0},{"s":"N3","h":0.5,"v":-0.8},{"s":"N3","h":1,"v":-1.6},{"s":"N3","h":1.5,"v":-2.4},{"s":"N3","h":2,"v":-0.5},{"s":"N3","h":2.5,"v":-1.3},{"s":"N3","h":3,"v":-2.1},{"s":"N3","h":3.5,"v":-2.9},{"s":"N3","h":4,"v":-1},{"s":"N3","h":4.5,"v":-1.8},{"s":"N3","h":5,"v":-2.6},{"s":"N3","h":5.5,"v":-3.4},{"s":"N3","h":6,"v":-4.2},{"s":"N3","h":6.5,"v":-2},{"s":"N3","h":7,"v":-2.8},{"s":"N3","h":7.5,"v":-3.6},{"s":"N3","h":8,"v":-4.4},{"s":"N3","h":8.5,"v":-1.5},{"s":"N3","h":9,"v":-2.3},{"s":"N3","h":9.5,"v":-3.1},{"s":"N3","h":10,"v":-3.9},{"s":"N3","h":10.5,"v":-4.7},{"s":"N3","h":11,"v":-2},{"s":"N3","h":11.5,"v":-2.8},{"s":"N3","h":12,"v":-3.6},{"s":"N3","h":12.5,"v":-4.4},{"s":"N3","h":13,"v":-1},{"s":"N3","h":13.5,"v":-1.8},{"s":"N3","h":14,"v":-2.6},{"s":"N3","h":14.5,"v":-3.4},{"s":"N3","h":15,"v":0.5},{"s":"N3","h":15.5,"v":-0.3},{"s":"N3","h":16,"v":-1.1},{"s":"N3","h":16.5,"v":-1.9},{"s":"N3","h":17,"v":-2.7},{"s":"N3","h":17.5,"v":1},{"s":"N3","h":18,"v":0.2},{"s":"N3","h":18.5,"v":-0.6},{"s":"N3","h":19,"v":-1.4},{"s":"N3","h":19.5,"v":2},{"s":"N3","h":20,"v":1.2},{"s":"N3","h":20.5,"v":0.4},{"s":"N3","h":21,"v":-0.4},{"s":"N3","h":21.5,"v":3},{"s":"N3","h":22,"v":2.2},{"s":"N3","h":22.5,"v":1.4},{"s":"N3","h":23,"v":0.6},{"s":"N3","h":23.5,"v":4},{"s":"N3","h":24,"v":3.2},
{"s":"N4","h":0,"v":0},{"s":"N4","h":0.5,"v":-1},{"s":"N4","h":1,"v":-2},{"s":"N4","h":1.5,"v":-3},{"s":"N4","h":2,"v":-2},{"s":"N4","h":2.5,"v":-3},{"s":"N4","h":3,"v":-4},{"s":"N4","h":3.5,"v":-5},{"s":"N4","h":4,"v":-3.5},{"s":"N4","h":4.5,"v":-4.5},{"s":"N4","h":5,"v":-5.5},{"s":"N4","h":5.5,"v":-6.5},{"s":"N4","h":6,"v":-4},{"s":"N4","h":6.5,"v":-5},{"s":"N4","h":7,"v":-6},{"s":"N4","h":7.5,"v":-7},{"s":"N4","h":8,"v":-8},{"s":"N4","h":8.5,"v":-6},{"s":"N4","h":9,"v":-7},{"s":"N4","h":9.5,"v":-8},{"s":"N4","h":10,"v":-9},{"s":"N4","h":10.5,"v":-3},{"s":"N4","h":11,"v":-4},{"s":"N4","h":11.5,"v":-5},{"s":"N4","h":12,"v":-6},{"s":"N4","h":12.5,"v":-7},{"s":"N4","h":13,"v":-4.5},{"s":"N4","h":13.5,"v":-5.5},{"s":"N4","h":14,"v":-6.5},{"s":"N4","h":14.5,"v":-7.5},{"s":"N4","h":15,"v":-2},{"s":"N4","h":15.5,"v":-3},{"s":"N4","h":16,"v":-4},{"s":"N4","h":16.5,"v":-5},{"s":"N4","h":17,"v":-6},{"s":"N4","h":17.5,"v":-3.5},{"s":"N4","h":18,"v":-4.5},{"s":"N4","h":18.5,"v":-5.5},{"s":"N4","h":19,"v":-6.5},{"s":"N4","h":19.5,"v":-1},{"s":"N4","h":20,"v":-2},{"s":"N4","h":20.5,"v":-3},{"s":"N4","h":21,"v":-4},{"s":"N4","h":21.5,"v":-5},{"s":"N4","h":22,"v":-2.5},{"s":"N4","h":22.5,"v":-3.5},{"s":"N4","h":23,"v":-4.5},{"s":"N4","h":23.5,"v":-5.5},{"s":"N4","h":24,"v":-1.5},
{"s":"N5","h":0,"v":0},{"s":"N5","h":0.5,"v":1},{"s":"N5","h":1,"v":0.2},{"s":"N5","h":1.5,"v":-0.6},{"s":"N5","h":2,"v":-1.4},{"s":"N5","h":2.5,"v":0.5},{"s":"N5","h":3,"v":-0.3},{"s":"N5","h":3.5,"v":-1.1},{"s":"N5","h":4,"v":-1.9},{"s":"N5","h":4.5,"v":-2.7},{"s":"N5","h":5,"v":-0.5},{"s":"N5","h":5.5,"v":-1.3},{"s":"N5","h":6,"v":-2.1},{"s":"N5","h":6.5,"v":-2.9},{"s":"N5","h":7,"v":-3.7},{"s":"N5","h":7.5,"v":-1.5},{"s":"N5","h":8,"v":-2.3},{"s":"N5","h":8.5,"v":-3.1},{"s":"N5","h":9,"v":-3.9},{"s":"N5","h":9.5,"v":-4.7},{"s":"N5","h":10,"v":-5.5},{"s":"N5","h":10.5,"v":-3},{"s":"N5","h":11,"v":-3.8},{"s":"N5","h":11.5,"v":-4.6},{"s":"N5","h":12,"v":-5.4},{"s":"N5","h":12.5,"v":-6.2},{"s":"N5","h":13,"v":-7},{"s":"N5","h":13.5,"v":-4.5},{"s":"N5","h":14,"v":-5.3},{"s":"N5","h":14.5,"v":-6.1},{"s":"N5","h":15,"v":-6.9},{"s":"N5","h":15.5,"v":-7.7},{"s":"N5","h":16,"v":-8.5},{"s":"N5","h":16.5,"v":-9.3},{"s":"N5","h":17,"v":-6},{"s":"N5","h":17.5,"v":-6.8},{"s":"N5","h":18,"v":-7.6},{"s":"N5","h":18.5,"v":-8.4},{"s":"N5","h":19,"v":-9.2},{"s":"N5","h":19.5,"v":-5},{"s":"N5","h":20,"v":-5.8},{"s":"N5","h":20.5,"v":-6.6},{"s":"N5","h":21,"v":-7.4},{"s":"N5","h":21.5,"v":-8.2},{"s":"N5","h":22,"v":-9},{"s":"N5","h":22.5,"v":-9.8},{"s":"N5","h":23,"v":-6},{"s":"N5","h":23.5,"v":-6.8},{"s":"N5","h":24,"v":-7.6},
{"s":"N6","h":0,"v":0},{"s":"N6","h":0.5,"v":2.5},{"s":"N6","h":1,"v":1.7},{"s":"N6","h":1.5,"v":0.9},{"s":"N6","h":2,"v":3},{"s":"N6","h":2.5,"v":2.2},{"s":"N6","h":3,"v":1.4},{"s":"N6","h":3.5,"v":0.6},{"s":"N6","h":4,"v":3.5},{"s":"N6","h":4.5,"v":2.7},{"s":"N6","h":5,"v":1.9},{"s":"N6","h":5.5,"v":5},{"s":"N6","h":6,"v":4.2},{"s":"N6","h":6.5,"v":3.4},{"s":"N6","h":7,"v":2.6},{"s":"N6","h":7.5,"v":6.5},{"s":"N6","h":8,"v":5.7},{"s":"N6","h":8.5,"v":4.9},{"s":"N6","h":9,"v":4.1},{"s":"N6","h":9.5,"v":3.3},{"s":"N6","h":10,"v":7},{"s":"N6","h":10.5,"v":6.2},{"s":"N6","h":11,"v":5.4},{"s":"N6","h":11.5,"v":4.6},{"s":"N6","h":12,"v":8},{"s":"N6","h":12.5,"v":7.2},{"s":"N6","h":13,"v":6.4},{"s":"N6","h":13.5,"v":5.6},{"s":"N6","h":14,"v":4.8},{"s":"N6","h":14.5,"v":4},{"s":"N6","h":15,"v":7.5},{"s":"N6","h":15.5,"v":6.7},{"s":"N6","h":16,"v":5.9},{"s":"N6","h":16.5,"v":5.1},{"s":"N6","h":17,"v":9},{"s":"N6","h":17.5,"v":8.2},{"s":"N6","h":18,"v":7.4},{"s":"N6","h":18.5,"v":6.6},{"s":"N6","h":19,"v":5.8},{"s":"N6","h":19.5,"v":9.5},{"s":"N6","h":20,"v":8.7},{"s":"N6","h":20.5,"v":7.9},{"s":"N6","h":21,"v":7.1},{"s":"N6","h":21.5,"v":6.3},{"s":"N6","h":22,"v":10.5},{"s":"N6","h":22.5,"v":9.7},{"s":"N6","h":23,"v":8.9},{"s":"N6","h":23.5,"v":8.1},{"s":"N6","h":24,"v":7.3},
{"s":"N7","h":0,"v":0},{"s":"N7","h":0.5,"v":-1},{"s":"N7","h":1,"v":-2},{"s":"N7","h":1.5,"v":-3},{"s":"N7","h":2,"v":-4},{"s":"N7","h":2.5,"v":-2.5},{"s":"N7","h":3,"v":-3.5},{"s":"N7","h":3.5,"v":-4.5},{"s":"N7","h":4,"v":-5.5},{"s":"N7","h":4.5,"v":-6.5},{"s":"N7","h":5,"v":-4},{"s":"N7","h":5.5,"v":-5},{"s":"N7","h":6,"v":-6},{"s":"N7","h":6.5,"v":-7},{"s":"N7","h":7,"v":-8},{"s":"N7","h":7.5,"v":-9},{"s":"N7","h":8,"v":-6.5},{"s":"N7","h":8.5,"v":-7.5},{"s":"N7","h":9,"v":-8.5},{"s":"N7","h":9.5,"v":-9.5},{"s":"N7","h":10,"v":-10.5},{"s":"N7","h":10.5,"v":-8},{"s":"N7","h":11,"v":-9},{"s":"N7","h":11.5,"v":-10},{"s":"N7","h":12,"v":-11},{"s":"N7","h":12.5,"v":-12},{"s":"N7","h":13,"v":-9.5},{"s":"N7","h":13.5,"v":-10.5},{"s":"N7","h":14,"v":-11.5},{"s":"N7","h":14.5,"v":-12.5},{"s":"N7","h":15,"v":-13.5},{"s":"N7","h":15.5,"v":-11},{"s":"N7","h":16,"v":-12},{"s":"N7","h":16.5,"v":-13},{"s":"N7","h":17,"v":-14},{"s":"N7","h":17.5,"v":-15},{"s":"N7","h":18,"v":-12.5},{"s":"N7","h":18.5,"v":-13.5},{"s":"N7","h":19,"v":-14.5},{"s":"N7","h":19.5,"v":-15.5},{"s":"N7","h":20,"v":-13},{"s":"N7","h":20.5,"v":-14},{"s":"N7","h":21,"v":-15},{"s":"N7","h":21.5,"v":-16},{"s":"N7","h":22,"v":-14},{"s":"N7","h":22.5,"v":-15},{"s":"N7","h":23,"v":-16},{"s":"N7","h":23.5,"v":-17},{"s":"N7","h":24,"v":-18},
{"s":"N8","h":0,"v":0},{"s":"N8","h":0.5,"v":-1.5},{"s":"N8","h":1,"v":-2.5},{"s":"N8","h":1.5,"v":-3.5},{"s":"N8","h":2,"v":-1.5},{"s":"N8","h":2.5,"v":-2.5},{"s":"N8","h":3,"v":-3.5},{"s":"N8","h":3.5,"v":-4.5},{"s":"N8","h":4,"v":-5.5},{"s":"N8","h":4.5,"v":-3},{"s":"N8","h":5,"v":-4},{"s":"N8","h":5.5,"v":-5},{"s":"N8","h":6,"v":-6},{"s":"N8","h":6.5,"v":-7},{"s":"N8","h":7,"v":-4.5},{"s":"N8","h":7.5,"v":-5.5},{"s":"N8","h":8,"v":-6.5},{"s":"N8","h":8.5,"v":-7.5},{"s":"N8","h":9,"v":-8.5},{"s":"N8","h":9.5,"v":-6},{"s":"N8","h":10,"v":-7},{"s":"N8","h":10.5,"v":-8},{"s":"N8","h":11,"v":-9},{"s":"N8","h":11.5,"v":-10},{"s":"N8","h":12,"v":-7},{"s":"N8","h":12.5,"v":-8},{"s":"N8","h":13,"v":-9},{"s":"N8","h":13.5,"v":-10},{"s":"N8","h":14,"v":-11},{"s":"N8","h":14.5,"v":-8.5},{"s":"N8","h":15,"v":-9.5},{"s":"N8","h":15.5,"v":-10.5},{"s":"N8","h":16,"v":-11.5},{"s":"N8","h":16.5,"v":-12.5},{"s":"N8","h":17,"v":-10},{"s":"N8","h":17.5,"v":-11},{"s":"N8","h":18,"v":-12},{"s":"N8","h":18.5,"v":-13},{"s":"N8","h":19,"v":-14},{"s":"N8","h":19.5,"v":-11.5},{"s":"N8","h":20,"v":-12.5},{"s":"N8","h":20.5,"v":-13.5},{"s":"N8","h":21,"v":-14.5},{"s":"N8","h":21.5,"v":-15.5},{"s":"N8","h":22,"v":-13},{"s":"N8","h":22.5,"v":-14},{"s":"N8","h":23,"v":-15},{"s":"N8","h":23.5,"v":-16},{"s":"N8","h":24,"v":-13.5},
{"s":"N9","h":0,"v":0},{"s":"N9","h":0.5,"v":-1},{"s":"N9","h":1,"v":-2},{"s":"N9","h":1.5,"v":-3},{"s":"N9","h":2,"v":-4},{"s":"N9","h":2.5,"v":-5},{"s":"N9","h":3,"v":-3},{"s":"N9","h":3.5,"v":-4},{"s":"N9","h":4,"v":-5},{"s":"N9","h":4.5,"v":-6},{"s":"N9","h":5,"v":-7},{"s":"N9","h":5.5,"v":-5},{"s":"N9","h":6,"v":-6},{"s":"N9","h":6.5,"v":-7},{"s":"N9","h":7,"v":-8},{"s":"N9","h":7.5,"v":-9},{"s":"N9","h":8,"v":-10},{"s":"N9","h":8.5,"v":-8},{"s":"N9","h":9,"v":-9},{"s":"N9","h":9.5,"v":-10},{"s":"N9","h":10,"v":-11},{"s":"N9","h":10.5,"v":-12},{"s":"N9","h":11,"v":-9.5},{"s":"N9","h":11.5,"v":-10.5},{"s":"N9","h":12,"v":-11.5},{"s":"N9","h":12.5,"v":-12.5},{"s":"N9","h":13,"v":-13.5},{"s":"N9","h":13.5,"v":-11},{"s":"N9","h":14,"v":-12},{"s":"N9","h":14.5,"v":-13},{"s":"N9","h":15,"v":-14},{"s":"N9","h":15.5,"v":-15},{"s":"N9","h":16,"v":-12.5},{"s":"N9","h":16.5,"v":-13.5},{"s":"N9","h":17,"v":-14.5},{"s":"N9","h":17.5,"v":-15.5},{"s":"N9","h":18,"v":-16.5},{"s":"N9","h":18.5,"v":-14},{"s":"N9","h":19,"v":-15},{"s":"N9","h":19.5,"v":-16},{"s":"N9","h":20,"v":-17},{"s":"N9","h":20.5,"v":-13},{"s":"N9","h":21,"v":-14},{"s":"N9","h":21.5,"v":-15},{"s":"N9","h":22,"v":-16},{"s":"N9","h":22.5,"v":-17},{"s":"N9","h":23,"v":-14.5},{"s":"N9","h":23.5,"v":-15.5},{"s":"N9","h":24,"v":-16.5},
{"s":"NA","h":0,"v":0},{"s":"NA","h":0.5,"v":1},{"s":"NA","h":1,"v":0},{"s":"NA","h":1.5,"v":-1},{"s":"NA","h":2,"v":1.5},{"s":"NA","h":2.5,"v":0.5},{"s":"NA","h":3,"v":-0.5},{"s":"NA","h":3.5,"v":3},{"s":"NA","h":4,"v":2},{"s":"NA","h":4.5,"v":1},{"s":"NA","h":5,"v":0},{"s":"NA","h":5.5,"v":4},{"s":"NA","h":6,"v":3},{"s":"NA","h":6.5,"v":2},{"s":"NA","h":7,"v":1},{"s":"NA","h":7.5,"v":5.5},{"s":"NA","h":8,"v":4.5},{"s":"NA","h":8.5,"v":3.5},{"s":"NA","h":9,"v":2.5},{"s":"NA","h":9.5,"v":1.5},{"s":"NA","h":10,"v":5},{"s":"NA","h":10.5,"v":4},{"s":"NA","h":11,"v":3},{"s":"NA","h":11.5,"v":2},{"s":"NA","h":12,"v":6.5},{"s":"NA","h":12.5,"v":5.5},{"s":"NA","h":13,"v":4.5},{"s":"NA","h":13.5,"v":3.5},{"s":"NA","h":14,"v":2.5},{"s":"NA","h":14.5,"v":7},{"s":"NA","h":15,"v":6},{"s":"NA","h":15.5,"v":5},{"s":"NA","h":16,"v":4},{"s":"NA","h":16.5,"v":8.5},{"s":"NA","h":17,"v":7.5},{"s":"NA","h":17.5,"v":6.5},{"s":"NA","h":18,"v":5.5},{"s":"NA","h":18.5,"v":4.5},{"s":"NA","h":19,"v":9},{"s":"NA","h":19.5,"v":8},{"s":"NA","h":20,"v":7},{"s":"NA","h":20.5,"v":6},{"s":"NA","h":21,"v":10.5},{"s":"NA","h":21.5,"v":9.5},{"s":"NA","h":22,"v":8.5},{"s":"NA","h":22.5,"v":7.5},{"s":"NA","h":23,"v":12},{"s":"NA","h":23.5,"v":11},{"s":"NA","h":24,"v":10},
{"s":"NB","h":0,"v":0},{"s":"NB","h":0.5,"v":-1},{"s":"NB","h":1,"v":-2},{"s":"NB","h":1.5,"v":-0.5},{"s":"NB","h":2,"v":-1.5},{"s":"NB","h":2.5,"v":-2.5},{"s":"NB","h":3,"v":-3.5},{"s":"NB","h":3.5,"v":-1},{"s":"NB","h":4,"v":-2},{"s":"NB","h":4.5,"v":-3},{"s":"NB","h":5,"v":-4},{"s":"NB","h":5.5,"v":-5},{"s":"NB","h":6,"v":-2.5},{"s":"NB","h":6.5,"v":-3.5},{"s":"NB","h":7,"v":-4.5},{"s":"NB","h":7.5,"v":-5.5},{"s":"NB","h":8,"v":-6.5},{"s":"NB","h":8.5,"v":-7.5},{"s":"NB","h":9,"v":-5},{"s":"NB","h":9.5,"v":-6},{"s":"NB","h":10,"v":-7},{"s":"NB","h":10.5,"v":-8},{"s":"NB","h":11,"v":-9},{"s":"NB","h":11.5,"v":-6.5},{"s":"NB","h":12,"v":-7.5},{"s":"NB","h":12.5,"v":-8.5},{"s":"NB","h":13,"v":-9.5},{"s":"NB","h":13.5,"v":-10.5},{"s":"NB","h":14,"v":-11.5},{"s":"NB","h":14.5,"v":-9},{"s":"NB","h":15,"v":-10},{"s":"NB","h":15.5,"v":-11},{"s":"NB","h":16,"v":-12},{"s":"NB","h":16.5,"v":-13},{"s":"NB","h":17,"v":-10.5},{"s":"NB","h":17.5,"v":-11.5},{"s":"NB","h":18,"v":-12.5},{"s":"NB","h":18.5,"v":-13.5},{"s":"NB","h":19,"v":-14.5},{"s":"NB","h":19.5,"v":-15.5},{"s":"NB","h":20,"v":-13},{"s":"NB","h":20.5,"v":-14},{"s":"NB","h":21,"v":-15},{"s":"NB","h":21.5,"v":-16},{"s":"NB","h":22,"v":-14},{"s":"NB","h":22.5,"v":-15},{"s":"NB","h":23,"v":-16},{"s":"NB","h":23.5,"v":-17},{"s":"NB","h":24,"v":-15},
{"s":"NC","h":0,"v":0},{"s":"NC","h":0.5,"v":-1.5},{"s":"NC","h":1,"v":-2.3},{"s":"NC","h":1.5,"v":-3.1},{"s":"NC","h":2,"v":-3.9},{"s":"NC","h":2.5,"v":-4.7},{"s":"NC","h":3,"v":-5.5},{"s":"NC","h":3.5,"v":-3},{"s":"NC","h":4,"v":-3.8},{"s":"NC","h":4.5,"v":-4.6},{"s":"NC","h":5,"v":-5.4},{"s":"NC","h":5.5,"v":-6.2},{"s":"NC","h":6,"v":-7},{"s":"NC","h":6.5,"v":-4},{"s":"NC","h":7,"v":-4.8},{"s":"NC","h":7.5,"v":-5.6},{"s":"NC","h":8,"v":-6.4},{"s":"NC","h":8.5,"v":-7.2},{"s":"NC","h":9,"v":-8},{"s":"NC","h":9.5,"v":-5},{"s":"NC","h":10,"v":-5.8},{"s":"NC","h":10.5,"v":-6.6},{"s":"NC","h":11,"v":-7.4},{"s":"NC","h":11.5,"v":-8.2},{"s":"NC","h":12,"v":-4},{"s":"NC","h":12.5,"v":-4.8},{"s":"NC","h":13,"v":-5.6},{"s":"NC","h":13.5,"v":-6.4},{"s":"NC","h":14,"v":-7.2},{"s":"NC","h":14.5,"v":-3},{"s":"NC","h":15,"v":-3.8},{"s":"NC","h":15.5,"v":-4.6},{"s":"NC","h":16,"v":-5.4},{"s":"NC","h":16.5,"v":-6.2},{"s":"NC","h":17,"v":-7},{"s":"NC","h":17.5,"v":-2},{"s":"NC","h":18,"v":-2.8},{"s":"NC","h":18.5,"v":-3.6},{"s":"NC","h":19,"v":-4.4},{"s":"NC","h":19.5,"v":-5.2},{"s":"NC","h":20,"v":-1},{"s":"NC","h":20.5,"v":-1.8},{"s":"NC","h":21,"v":-2.6},{"s":"NC","h":21.5,"v":-3.4},{"s":"NC","h":22,"v":-4.2},{"s":"NC","h":22.5,"v":-5},{"s":"NC","h":23,"v":-0.5},{"s":"NC","h":23.5,"v":-1.3},{"s":"NC","h":24,"v":-2.1}
]},
"layer":[
{"mark":{"type":"line","strokeWidth":1,"clip":true},
"encoding":{
"x":{"field":"h","type":"quantitative","scale":{"domain":[0,24],"nice":false,"zero":false},"axis":{"values":[0,1,2,3,4,5,6,7,8,9,10,11,12,13,14,15,16,17,18,19,20,21,22,23],"title":"Hour of Day","labelPadding":13,"titlePadding":3,"labelFlush":false}},
"y":{"field":"v","type":"quantitative","scale":{"domain":[-30,40],"nice":false,"zero":false},"axis":{"values":[-30,-20,-10,0,10,20,30,40],"title":"Cumulative (Z*Z)-1","labelPadding":17,"titlePadding":2,"labelFlush":false}},
"color":{"field":"s","type":"nominal","legend":null,"scale":{"domain":["KF","C1","B1","C2","B2","M1","C3","R1","R2","P1","M2","C4","G1","Y1","R3","R4","D1","D2","G2","G3","B3","B4","Y2","Y3","M3","M4","K1","ZB","B5","B6","M5","R5","C5","G4","P2","D3","R6","R7","R8","G5","D4","N1","N2","N3","N4","N5","N6","N7","N8","N9","NA","NB","NC"],
"range":["#000000","#40ffff","#0000c0","#40ffff","#0000ff","#ff40ff","#40ffff","#ff0000","#ff0000","#6060ff","#ff40ff","#40ffff","#00a800","#ffff00","#ff0000","#ff0000","#b00000","#b00000","#00a800","#00a800","#0000ff","#0000ff","#ffff00","#ffff00","#ff40ff","#ff40ff","#000000","#0000ff","#0000ff","#0000c0","#ff40ff","#ff0000","#40ffff","#00a800","#6060ff","#b00000","#ff0000","#ff0000","#ff0000","#00a800","#b00000","#ff0000","#b00000","#00a800","#0000ff","#ffff00","#ff40ff","#40ffff","#6060ff","#ff0000","#0000c0","#00a800","#b00000"]}}
}},
{"mark":{"type":"line","strokeOpacity":0},
"encoding":{
"x":{"field":"h","type":"quantitative","scale":{"domain":[0,24],"nice":false,"zero":false},"axis":{"orient":"top","values":[0,1,2,3,4,5,6,7,8,9,10,11,12,13,14,15,16,17,18,19,20,21,22,23],"labels":false,"title":null,"domain":false}},
"y":{"field":"v","type":"quantitative","scale":{"domain":[-30,40],"nice":false,"zero":false},"axis":{"orient":"right","values":[-30,-20,-10,0,10,20,30,40],"labels":false,"title":null,"domain":false}},
"detail":{"field":"s","type":"nominal"}
}}
],
"resolve":{"axis":{"x":"independent","y":"independent"}}
}
